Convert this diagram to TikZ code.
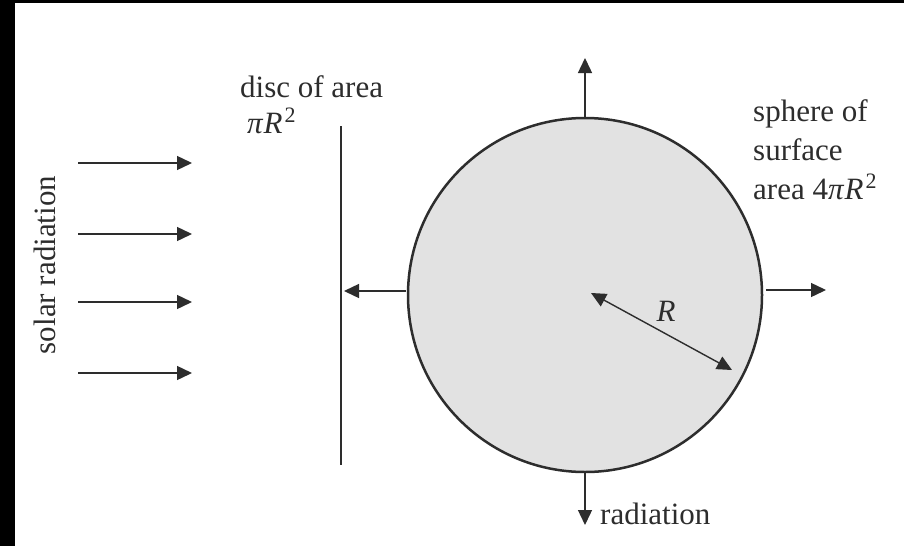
\documentclass[tikz,border=0pt]{standalone}
\usepackage{fontspec}
\setmainfont{Liberation Serif}
\usetikzlibrary{arrows.meta,calc}
\definecolor{ink}{RGB}{45,45,45}
\definecolor{spherefill}{RGB}{226,226,226}
\tikzset{
  lbl/.style={inner sep=0pt, text=ink, font=\fontsize{31}{40}\selectfont},
  ray/.style={draw=ink, line width=1.4pt, -{Triangle[length=15pt,width=14pt]}},
  ray2/.style={draw=ink, line width=1.4pt, {Triangle[length=15pt,width=14pt]}-{Triangle[length=15pt,width=14pt]}},
}
\begin{document}
\begin{tikzpicture}[x=1pt,y=-1pt]
\useasboundingbox (0,0) rectangle (904,546);
\fill[white] (0,0) rectangle (904,546);
\fill[black] (0,0) rectangle (15,546);
\fill[black] (0,0) rectangle (904,3);

% solar radiation
\foreach \yy/\nm in {163/a,234/b,302/c,373/d}{
  \coordinate (s\nm) at (78,\yy);
  \coordinate (e\nm) at (192,\yy);
  \draw[ray] (s\nm) -- (e\nm);
}
\node[lbl, rotate=90] (solar) at (45,265) {solar radiation};

% disc
\node[lbl, anchor=base west] (disc) at (240,97) {disc of area};
\node[lbl, anchor=base west] (discarea) at (247,133) {{\itshape π}\kern1pt{\itshape R}\kern2pt\raisebox{11pt}{\fontsize{22}{22}\selectfont 2}};
\coordinate (dtop) at (341,126);
\coordinate (dbot) at (341,465);
\draw[ink, line width=2pt] (dtop) -- (dbot);

% sphere
\node[draw=ink, line width=2.5pt, fill=spherefill, circle, minimum size=354pt, inner sep=0pt] (sphere) at (585,295) {};

% radiation arrows
\coordinate (uptip) at (585,58);
\draw[ray] (sphere.north) -- (uptip);
\coordinate (lstart) at (406,291);
\coordinate (ltip) at (344,291);
\draw[ray] (lstart) -- (ltip);
\coordinate (rstart) at (766,290);
\coordinate (rtip) at (826,290);
\draw[ray] (rstart) -- (rtip);
\coordinate (dtip) at (585,525);
\draw[ray] (sphere.south) -- (dtip);
\node[lbl, anchor=base west] (rad) at (600,524) {radiation};

% radius
\coordinate (rc) at (591,293);
\coordinate (re) at (732,370);
\draw[ray2] (rc) -- (re);
\node[lbl, anchor=base] (Rlbl) at (666,321) {\itshape R};

% sphere label
\node[lbl, anchor=base west] (sp1) at (753,121) {sphere of};
\node[lbl, anchor=base west] (sp2) at (753,160) {surface};
\node[lbl, anchor=base west] (sp3) at (753,199) {area 4{\itshape π}\kern1pt{\itshape R}\kern2pt\raisebox{11pt}{\fontsize{22}{22}\selectfont 2}};
\end{tikzpicture}
\end{document}
